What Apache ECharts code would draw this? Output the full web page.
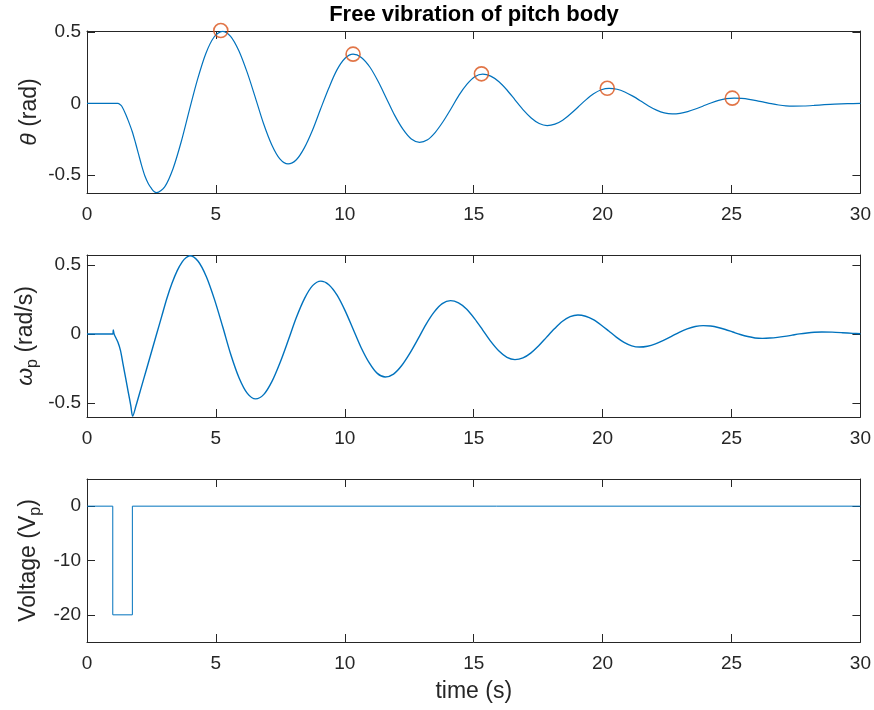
<!DOCTYPE html>
<html>
<head>
<meta charset="utf-8">
<script src="https://cdn.jsdelivr.net/npm/echarts@6/dist/echarts.min.js"></script>
<style>
html,body{margin:0;padding:0;background:#fff}
#pitch_chart{width:874px;height:710px}
</style>
</head>
<body>
<div id="pitch_chart"></div>
<script>
// theta (rad)
var thetaT = [0, 1.0, 1.1, 1.2, 1.28, 1.35, 1.5, 1.62, 1.75, 1.88, 2.0, 2.12, 2.25, 2.38, 2.5, 2.6, 2.7,
	3.02, 3.34, 3.66, 3.98, 4.29, 4.61, 4.93, 5.25,
	5.57, 5.89, 6.21, 6.53, 6.84, 7.16, 7.48, 7.8,
	8.12, 8.43, 8.75, 9.06, 9.38, 9.69, 10.01, 10.32,
	10.64, 10.97, 11.29, 11.61, 11.93, 12.26, 12.58, 12.9,
	13.21, 13.51, 13.82, 14.13, 14.43, 14.74, 15.04, 15.35,
	15.66, 15.98, 16.29, 16.6, 16.91, 17.23, 17.54, 17.85,
	18.15, 18.45, 18.75, 19.05, 19.35, 19.65, 19.95, 20.25,
	20.56, 20.86, 21.17, 21.48, 21.78, 22.09, 22.39, 22.7,
	23.0, 23.3, 23.6, 23.9, 24.2, 24.5, 24.8, 25.1,
	25.39, 25.68, 25.96, 26.25, 26.54, 26.83, 27.11, 27.4,
	27.8, 28.2, 28.6, 29.0, 29.5, 30];
var thetaV = [0, 0, 0, 0, -0.007, -0.02, -0.075, -0.13, -0.195, -0.275, -0.355, -0.435, -0.51, -0.562, -0.595, -0.617, -0.625,
	-0.582, -0.455, -0.265, -0.04, 0.17, 0.35, 0.465, 0.505,
	0.470, 0.369, 0.219, 0.041, -0.137, -0.287, -0.388, -0.423,
	-0.394, -0.311, -0.186, -0.039, 0.108, 0.233, 0.316, 0.345,
	0.322, 0.255, 0.155, 0.037, -0.082, -0.182, -0.249, -0.272,
	-0.254, -0.202, -0.125, -0.034, 0.058, 0.135, 0.187, 0.205,
	0.191, 0.152, 0.094, 0.025, -0.044, -0.102, -0.141, -0.155,
	-0.145, -0.117, -0.074, -0.025, 0.025, 0.068, 0.096, 0.106,
	0.099, 0.080, 0.051, 0.017, -0.018, -0.047, -0.066, -0.073,
	-0.069, -0.057, -0.039, -0.018, 0.003, 0.021, 0.033, 0.037,
	0.035, 0.029, 0.020, 0.009, -0.002, -0.011, -0.017, -0.019,
	-0.018, -0.014, -0.009, -0.005, -0.002, 0.0];

// found peaks (circles)
var peakT = [5.19, 10.32, 15.3, 20.18, 25.03];
var peakV = [0.51, 0.345, 0.207, 0.106, 0.037];

// omega_p (rad/s)
var omegaT = [0, 1.0, 1.02, 1.05, 1.1, 1.2, 1.3, 1.4, 1.5, 1.6, 1.7, 1.77,
	1.9, 2.1, 2.3, 2.5, 2.7, 2.9, 3.1, 3.3, 3.5, 3.7, 3.85, 3.99,
	4.31, 4.63, 4.95, 5.27, 5.58, 5.90, 6.22, 6.54,
	6.86, 7.17, 7.49, 7.81, 8.12, 8.44, 8.75, 9.07,
	9.38, 9.70, 10.01, 10.32, 10.63, 10.95, 11.26, 11.57,
	11.89, 12.20, 12.52, 12.84, 13.15, 13.47, 13.78, 14.1,
	14.41, 14.73, 15.04, 15.35, 15.66, 15.98, 16.29, 16.6,
	16.91, 17.21, 17.52, 17.82, 18.13, 18.43, 18.74, 19.04,
	19.34, 19.64, 19.94, 20.24, 20.53, 20.83, 21.13, 21.43,
	21.74, 22.05, 22.36, 22.67, 22.97, 23.28, 23.59, 23.9,
	24.19, 24.48, 24.76, 25.05, 25.34, 25.63, 25.91, 26.2,
	26.49, 26.78, 27.06, 27.35, 27.64, 27.93, 28.21, 28.5,
	28.9, 29.3, 29.7, 30];
var omegaV = [0, 0, 0.03, 0.0, -0.02, -0.06, -0.12, -0.22, -0.32, -0.42, -0.52, -0.595,
	-0.52, -0.39, -0.26, -0.13, 0.0, 0.13, 0.26, 0.37, 0.46, 0.525, 0.555, 0.568,
	0.528, 0.416, 0.248, 0.049, -0.150, -0.318, -0.430, -0.47,
	-0.437, -0.345, -0.206, -0.043, 0.120, 0.259, 0.351, 0.384,
	0.358, 0.282, 0.170, 0.037, -0.097, -0.209, -0.285, -0.311,
	-0.290, -0.230, -0.140, -0.035, 0.071, 0.161, 0.221, 0.242,
	0.226, 0.180, 0.110, 0.029, -0.053, -0.123, -0.169, -0.185,
	-0.173, -0.138, -0.085, -0.024, 0.038, 0.091, 0.126, 0.138,
	0.129, 0.104, 0.066, 0.022, -0.022, -0.060, -0.085, -0.094,
	-0.088, -0.071, -0.046, -0.017, 0.013, 0.038, 0.055, 0.061,
	0.058, 0.048, 0.033, 0.015, -0.003, -0.018, -0.028, -0.031,
	-0.029, -0.024, -0.017, -0.008, 0.001, 0.008, 0.013, 0.015,
	0.014, 0.010, 0.005, 0.002];

// voltage pulse
var voltT = [0, 1.0, 1.0, 1.76, 1.76, 30];
var voltV = [0, 0, -20, -20, 0, 0];

var yTicks1 = [-0.5, 0, 0.5];
var yTicks2 = [-0.5, 0, 0.5];
var yTicks3 = [-20, -10, 0];

function pairs(t, v){
	var out = [];
	for(var i=0;i<t.length;i++){
		out.push([t[i], v[i]]);
	}
	return out;
}

var FONT = 'Liberation Sans';
var AX = '#262626';
var BLUE = '#0072BD';
var ORANGE = '#D95319';

var grids = [
	{left:87, right:13, top:31, height:162},
	{left:87, right:13, top:255, height:162},
	{left:87, right:13, top:479, height:163}
];
var yRanges = [[-0.627, 0.507], [-0.601, 0.573], [-25, 5]];
var yTicks = [yTicks1, yTicks2, yTicks3];
var yNames = ['{i|θ} (rad)', '{i|ω}{s|p} (rad/s)', 'Voltage (V{s|p})'];
var yGaps = [46, 46, 43];

var xAxes = [], yAxes = [];
for(var g=0;g<3;g++){
	var lineStyle = {color:AX, width:1};
	xAxes.push({
		type:'value', gridIndex:g, min:0, max:30, interval:5, position:'bottom',
		axisLine:{show:true, onZero:false, lineStyle:lineStyle},
		axisTick:{inside:true, length:8, lineStyle:lineStyle},
		axisLabel:{color:AX, fontSize:19, fontFamily:FONT, margin:12},
		splitLine:{show:false},
		name: g==2 ? 'time (s)' : '',
		nameLocation:'middle', nameGap:38,
		nameTextStyle:{color:AX, fontSize:23, fontFamily:FONT}
	});
	xAxes.push({
		type:'value', gridIndex:g, min:0, max:30, interval:5, position:'top',
		axisLine:{show:true, onZero:false, lineStyle:lineStyle},
		axisTick:{inside:true, length:8, lineStyle:lineStyle},
		axisLabel:{show:false},
		splitLine:{show:false}
	});
	yAxes.push({
		type:'value', gridIndex:g, min:yRanges[g][0], max:yRanges[g][1], position:'left',
		axisLine:{show:true, onZero:false, lineStyle:lineStyle},
		axisTick:{inside:true, length:8, lineStyle:lineStyle, customValues:yTicks[g]},
		axisLabel:{color:AX, fontSize:19, fontFamily:FONT, margin:6, customValues:yTicks[g]},
		splitLine:{show:false},
		name:yNames[g], nameLocation:'middle', nameRotate:90, nameGap:yGaps[g],
		nameMoveOverlap:false,
		nameTextStyle:{
			color:AX, fontSize:23, fontFamily:FONT,
			rich:{
				i:{fontStyle:'italic', fontSize:23, fontFamily:FONT, color:AX},
				s:{fontSize:16, fontFamily:FONT, color:AX, padding:[15,0,0,0]}
			}
		}
	});
	yAxes.push({
		type:'value', gridIndex:g, min:yRanges[g][0], max:yRanges[g][1], position:'right',
		axisLine:{show:true, onZero:false, lineStyle:lineStyle},
		axisTick:{inside:true, length:8, lineStyle:lineStyle, customValues:yTicks[g]},
		axisLabel:{show:false},
		splitLine:{show:false}
	});
}

var myChart = echarts.init(document.getElementById('pitch_chart'));
var option = {
	animation:false,
	backgroundColor:'#fff',
	graphic:[{
		type:'text', x:474, y:15,
		style:{
			text:'Free vibration of pitch body',
			fill:'#000',
			font:'bold 22px "Liberation Sans"',
			textAlign:'center', textVerticalAlign:'middle',
			align:'center', verticalAlign:'middle'
		}
	}],
	grid:grids,
	xAxis:xAxes,
	yAxis:yAxes,
	series:[
		{
			name:'theta', type:'line', xAxisIndex:0, yAxisIndex:0,
			data:pairs(thetaT, thetaV), symbol:'none', smooth:0.3,
			lineStyle:{color:BLUE, width:1.2}
		},
		{
			name:'peaks', type:'scatter', xAxisIndex:0, yAxisIndex:0,
			data:pairs(peakT, peakV), symbol:'circle', symbolSize:14, clip:false, z:5,
			itemStyle:{color:'rgba(0,0,0,0)', borderColor:ORANGE, borderWidth:1.6}
		},
		{
			name:'omega', type:'line', xAxisIndex:2, yAxisIndex:2,
			data:pairs(omegaT, omegaV), symbol:'none', smooth:0.3,
			lineStyle:{color:BLUE, width:1.4}
		},
		{
			name:'voltage', type:'line', xAxisIndex:4, yAxisIndex:4,
			data:pairs(voltT, voltV), symbol:'none',
			lineStyle:{color:BLUE, width:1}
		}
	]
};
myChart.setOption(option);
</script>
</body>
</html>
